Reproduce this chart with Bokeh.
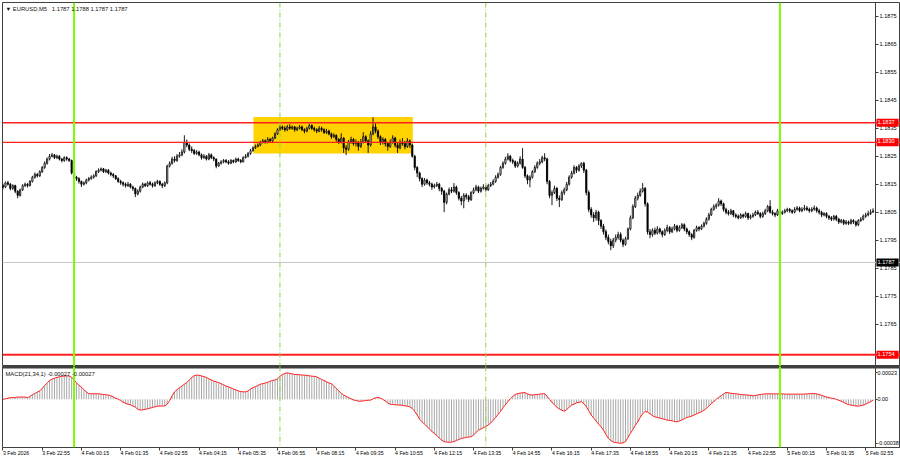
import numpy as np
from bokeh.plotting import figure
from bokeh.models import (Range1d, FixedTicker, Span, Label, ColumnDataSource,
                          NumeralTickFormatter, CustomJSTickFormatter)
from bokeh.layouts import column
from bokeh.embed import file_html
from bokeh.resources import INLINE

# ---------------- data (prices in points: price = BASE + pts * 1e-5) ----------------
BASE = 1.18
first_open = 145
closes = [
    140, 155, 150, 135, 145, 125, 110, 130, 145, 150,
    145, 160, 175, 185, 180, 195, 210, 225, 240, 250,
    255, 245, 250, 240, 235, 245, 240, 235, 190, 175,
    170, 160, 150, 155, 165, 170, 175, 180, 195, 200,
    205, 195, 200, 190, 185, 180, 170, 160, 155, 150,
    145, 150, 140, 135, 115, 125, 140, 150, 145, 155,
    150, 145, 155, 160, 150, 145, 155, 215, 225, 240,
    235, 250, 255, 265, 300, 290, 275, 270, 260, 265,
    255, 245, 250, 240, 255, 245, 240, 215, 225, 230,
    235, 230, 225, 235, 230, 240, 235, 230, 245, 250,
    260, 270, 280, 285, 290, 300, 305, 300, 310, 305,
    315, 330, 345, 355, 350, 345, 355, 350, 355, 345,
    350, 355, 345, 340, 350, 360, 350, 345, 340, 350,
    345, 335, 340, 330, 320, 325, 310, 300, 315, 280,
    275, 300, 310, 295, 300, 285, 300, 320, 305, 290,
    330, 355, 340, 320, 300, 310, 295, 285, 300, 315,
    290, 280, 300, 295, 285, 305, 290, 250, 210, 190,
    170, 150, 165, 155, 150, 140, 145, 150, 135, 125,
    85, 115, 130, 125, 140, 120, 100, 90, 110, 105,
    95, 120, 130, 140, 125, 135, 140, 130, 145, 150,
    160, 175, 185, 210, 225, 240, 250, 235, 230, 215,
    225, 240, 210, 180, 165, 175, 195, 210, 225, 230,
    245, 240, 160, 110, 120, 135, 100, 95, 120, 130,
    150, 175, 190, 210, 200, 215, 225, 200, 120, 60,
    40, 30, 50, 20, 0, -20, -40, -55, -70, -50,
    -40, -30, -50, -65, -45, -10, 30, 70, 100, 110,
    125, 135, 80, -20, -30, -15, -25, -10, -20, -30,
    -15, -5, -20, -10, 0, -15, -5, 5, -10, -20,
    -30, -40, -15, -5, -10, 0, 10, 25, 40, 60,
    70, 75, 90, 80, 60, 50, 45, 55, 40, 35,
    30, 40, 35, 45, 30, 35, 40, 50, 45, 35,
    45, 55, 70, 50, 45, 40, 55, 45, 50, 55,
    60, 55, 50, 60, 65, 55, 60, 65, 60, 55,
    60, 65, 55, 50, 40, 45, 35, 30, 25, 35,
    25, 15, 20, 10, 15, 10, 20, 15, 5, 20,
    25, 35, 40, 45, 50, 55]
highs = [
    152, 160, 162, 154, 150, 148, 128, 134, 150, 156,
    154, 165, 180, 192, 190, 200, 215, 232, 246, 258,
    262, 258, 256, 254, 244, 250, 250, 244, 238, 195,
    180, 175, 163, 160, 170, 176, 182, 186, 200, 207,
    210, 208, 205, 204, 195, 190, 183, 175, 166, 160,
    156, 158, 154, 145, 138, 132, 145, 156, 155, 160,
    162, 156, 160, 166, 164, 155, 160, 220, 232, 248,
    250, 258, 265, 275, 325, 310, 296, 285, 276, 272,
    270, 260, 258, 254, 262, 260, 250, 242, 230, 236,
    240, 240, 236, 240, 238, 245, 245, 240, 250, 258,
    265, 276, 285, 292, 296, 305, 312, 310, 318, 316,
    320, 336, 350, 362, 360, 358, 362, 365, 360, 358,
    356, 362, 360, 350, 356, 366, 364, 356, 350, 358,
    356, 350, 348, 345, 335, 332, 328, 315, 332, 318,
    290, 308, 320, 315, 310, 305, 312, 336, 325, 310,
    340, 389, 368, 346, 325, 318, 315, 300, 310, 325,
    320, 298, 310, 315, 305, 315, 310, 295, 255, 215,
    195, 175, 172, 170, 162, 156, 152, 158, 155, 140,
    130, 120, 138, 140, 154, 145, 125, 108, 118, 118,
    112, 125, 138, 148, 145, 142, 150, 146, 152, 158,
    168, 182, 192, 216, 232, 248, 261, 255, 242, 235,
    232, 250, 279, 215, 185, 182, 200, 218, 232, 240,
    252, 261, 245, 165, 128, 145, 140, 110, 128, 138,
    158, 182, 198, 218, 215, 222, 228, 230, 205, 128,
    68, 50, 58, 55, 25, 8, -12, -30, -45, -42,
    -30, -20, -22, -44, -38, -5, 38, 78, 108, 120,
    135, 154, 140, 85, -10, -8, -5, 0, -5, -15,
    -8, 5, 0, -2, 8, 5, 3, 11, 10, -5,
    -15, -25, -10, 2, 0, 6, 16, 32, 48, 66,
    78, 82, 100, 95, 84, 66, 58, 62, 58, 46,
    42, 46, 45, 52, 48, 42, 48, 56, 58, 50,
    52, 62, 76, 93, 58, 50, 62, 60, 56, 62,
    66, 65, 60, 68, 72, 70, 68, 76, 72, 66,
    68, 74, 70, 62, 55, 50, 50, 40, 36, 40,
    40, 30, 26, 25, 22, 20, 26, 25, 20, 25,
    32, 42, 48, 55, 60, 64]
lows = [
    132, 136, 145, 128, 130, 118, 100, 106, 126, 140,
    138, 142, 156, 170, 174, 176, 190, 205, 220, 235,
    246, 240, 240, 235, 228, 230, 234, 230, 185, 168,
    162, 152, 140, 145, 150, 160, 166, 170, 176, 190,
    196, 190, 190, 185, 178, 172, 165, 155, 148, 142,
    138, 140, 135, 126, 104, 110, 120, 136, 140, 140,
    145, 138, 140, 150, 144, 136, 140, 150, 210, 220,
    228, 230, 245, 250, 260, 282, 268, 262, 255, 255,
    250, 238, 240, 235, 236, 240, 232, 207, 212, 220,
    225, 225, 220, 222, 225, 226, 230, 225, 228, 242,
    246, 255, 266, 276, 282, 286, 296, 295, 296, 300,
    300, 312, 326, 340, 344, 338, 340, 345, 344, 338,
    340, 346, 340, 332, 336, 346, 344, 338, 333, 336,
    338, 330, 330, 325, 312, 315, 302, 294, 296, 262,
    254, 270, 295, 288, 285, 270, 280, 296, 298, 262,
    285, 325, 332, 312, 290, 292, 285, 270, 280, 295,
    282, 262, 275, 288, 275, 280, 280, 245, 200, 175,
    160, 140, 145, 148, 142, 130, 135, 140, 125, 112,
    50, 78, 110, 118, 120, 112, 92, 75, 64, 95,
    86, 90, 115, 125, 118, 120, 130, 124, 126, 140,
    146, 155, 170, 180, 205, 220, 235, 228, 222, 208,
    210, 220, 205, 172, 150, 139, 170, 190, 205, 218,
    225, 232, 150, 100, 75, 115, 90, 68, 90, 112,
    125, 145, 170, 185, 190, 195, 208, 190, 110, 50,
    30, 15, 20, 4, -10, -30, -50, -65, -86, -78,
    -58, -48, -58, -75, -70, -50, -15, 25, 65, 92,
    105, 120, 70, -30, -43, -38, -32, -30, -28, -40,
    -35, -22, -28, -25, -15, -22, -20, -10, -18, -28,
    -38, -50, -45, -20, -18, -14, -5, 5, 20, 36,
    55, 62, 70, 72, 52, 42, 38, 40, 32, 28,
    24, 26, 28, 30, 22, 24, 30, 36, 40, 28,
    30, 40, 50, 45, 38, 32, 36, 38, 40, 45,
    50, 48, 44, 46, 55, 50, 50, 55, 54, 48,
    50, 55, 48, 42, 32, 35, 28, 22, 18, 20,
    18, 8, 10, 4, 5, 4, 6, 8, -2, 0,
    15, 20, 30, 35, 40, 48]
# MACD(21,34,1) main value per bar, in 1e-5
macd = [
    0, 0.5, 1, 1.5, 1.5, 1.5, 2, 2, 2, 2,
    1.5, 2.5, 4, 5, 6.3, 7.3, 9.5, 12, 14, 16.3,
    17.5, 18.3, 19, 19.5, 20, 20.2, 20.3, 20.3, 19, 17,
    14.2, 12.3, 10.5, 8.5, 6.3, 5, 4.8, 4.8, 4.8, 4.8,
    4.5, 4.2, 3.9, 3.7, 3.1, 2.1, 1, 0.2, -1, -2.6,
    -3.5, -4.2, -4.7, -5.8, -6.8, -8.4, -9.3, -9.1, -8.6, -8.2,
    -7.6, -7.1, -6.5, -5.9, -5.8, -5.8, -5.7, -4.2, -1, 3.1,
    6.5, 8.4, 10, 11.5, 13.1, 14.7, 16.8, 18.9, 20.5, 21,
    20.8, 20.3, 19.7, 18.9, 17.8, 16.8, 15.7, 15.2, 14.5, 13.6,
    12.6, 11.5, 10.8, 10, 8.9, 8.2, 7.3, 6.8, 6.5, 6.5,
    7.3, 8.9, 10, 11, 12, 13.1, 13.6, 14.2, 14.7, 15.7,
    16.3, 16.8, 17.8, 19.9, 21.5, 22.5, 23, 22.5, 22, 21.6,
    21.4, 21.4, 21, 21, 20.7, 20.4, 20.1, 19.9, 19.5, 18.3,
    17.3, 16.3, 15.2, 14.2, 13.6, 11.5, 9.4, 7.3, 5.2, 3.7,
    2.6, 1.6, 0.5, -0.5, -1, -1.6, -1.6, -1.4, -1, -0.8,
    -0.7, 0.5, 1.3, 1.6, 1, 0, -1.6, -3.1, -4.2, -4.5,
    -4.7, -4.9, -5, -5.2, -5.6, -6, -6.5, -7.9, -10.5, -13.6,
    -17.3, -19.5, -21.5, -23.6, -25.7, -27.8, -29.6, -31.4, -33.5, -35.4,
    -36.6, -37, -37.2, -37.1, -36.6, -35.6, -34.8, -33.9, -33.5, -33,
    -32.7, -32.4, -30.9, -28.8, -26.7, -25.7, -24.6, -23.6, -22.3, -20.4,
    -18.3, -15.7, -13.1, -10.5, -7.3, -4.7, -2.1, 0.5, 2.6, 4.2,
    5, 5.4, 5.7, 5.8, 4.7, 4, 3.7, 4, 4.2, 4.5,
    4.8, 5, 2.6, 0, -2.7, -4.7, -6.8, -8.4, -9.4, -10.3,
    -8.9, -6.8, -5, -4.2, -3.1, -2.6, -2.1, -3.7, -6.3, -9.9,
    -13.6, -16.2, -18.8, -21.5, -23.8, -26.7, -30.4, -33.9, -35.6, -37,
    -37.5, -37.8, -38, -37.8, -36.6, -33, -29.5, -26.2, -22.5, -19.5,
    -15.7, -12.6, -10.5, -11, -12.6, -14.1, -15.2, -15.7, -16.2, -16.8,
    -17.4, -18, -18.3, -18.6, -19.2, -19.5, -18.8, -17.8, -16.8, -15.7,
    -15.2, -14.5, -13.6, -12.6, -11.5, -10.8, -9.4, -7.9, -5.8, -3.7,
    -2.1, 0, 1.6, 3.1, 4.7, 5.9, 5.8, 5.2, 5, 4.8,
    4.5, 4.2, 4, 3.8, 3.7, 3.5, 3.1, 3.4, 3.8, 4.2,
    4.5, 4.7, 4.8, 4.8, 4.7, 4.7, 4.8, 4.8, 4.7, 4.6,
    4.5, 4.5, 4.5, 4.5, 4.5, 4.5, 4.5, 4.6, 4.7, 4.9,
    5, 5, 4.7, 4.2, 3.5, 2.7, 2.1, 1.6, 1, 0.7,
    0, -0.8, -1.7, -2.6, -3.7, -4.5, -5, -5.4, -5.8, -5.9,
    -5.5, -5, -4.2, -3.1, -2.1, -0.7]

price_ticks = [1.1765, 1.1775, 1.1785, 1.1795, 1.1805, 1.1815, 1.1825,
               1.1835, 1.1845, 1.1855, 1.1865, 1.1875]
macd_ticks = [0.00023, 0.0, -0.00038]
time_labels = {0: "3 Feb 2026", 16: "3 Feb 22:55", 32: "4 Feb 00:15", 48: "4 Feb 01:35",
               64: "4 Feb 02:55", 80: "4 Feb 04:15", 96: "4 Feb 05:35", 112: "4 Feb 06:55",
               128: "4 Feb 08:15", 144: "4 Feb 09:35", 160: "4 Feb 10:55", 176: "4 Feb 12:15",
               192: "4 Feb 13:35", 208: "4 Feb 14:55", 224: "4 Feb 16:15", 240: "4 Feb 17:35",
               256: "4 Feb 18:55", 272: "4 Feb 20:15", 288: "4 Feb 21:35", 304: "4 Feb 22:55",
               320: "5 Feb 00:15", 336: "5 Feb 01:35", 352: "5 Feb 02:55"}
day_lines = [29, 317]            # bars at 00:00
session_lines = [113, 197]       # bars at 07:00 and 14:00
red_levels = [1.1837, 1.1830, 1.1754]
red_widths = [1.5, 1.2, 2]
bid_level = 1.1787
zone_start, zone_end = 102.2, 167.2
zone_low, zone_high = 1.1826, 1.1839
title_text = "\u25BC EURUSD,M5\u00a0\u00a0\u00a01.1787 1.1788 1.1787 1.1787"
macd_title = "MACD(21,34,1) -0.00027 -0.00027"

# ---------------- build ----------------
FONT = "Liberation Sans"
FS_TXT = "5.8px"
FS_Y = "5.6px"
FS_X = "5.2px"
AXIS_X = 356.0          # bar position of the price scale (right edge of the chart area)
n = len(closes)
xs = np.arange(n)
c = BASE + np.array(closes) * 1e-5
o = BASE + np.array([first_open] + closes[:-1]) * 1e-5
h = BASE + np.array(highs) * 1e-5
l = BASE + np.array(lows) * 1e-5
src = ColumnDataSource(dict(x=xs, h=h, l=l, top=np.maximum(o, c), bot=np.minimum(o, c),
                            fill=["white" if cc >= oo else "black" for oo, cc in zip(o, c)]))
m = np.array(macd) * 1e-5
msrc = ColumnDataSource(dict(x=xs, m=m, z=np.zeros(n)))

xr = Range1d(-0.2, 366.2)
FW = 898
M_TOP, M_BOT = 0.0002846, -0.0004173

p1 = figure(frame_width=FW, frame_height=364, x_range=xr, y_range=Range1d(1.17498, 1.18800),
            x_axis_location=None, y_axis_location="right", output_backend="svg",
            toolbar_location=None, min_border_left=2, min_border_right=0,
            min_border_top=2, min_border_bottom=0)
p2 = figure(frame_width=FW, frame_height=81, x_range=xr, y_range=Range1d(M_BOT, M_TOP),
            y_axis_location="right", output_backend="svg", toolbar_location=None,
            min_border_left=2, min_border_right=0, min_border_top=0, min_border_bottom=13)

for p in (p1, p2):
    p.grid.visible = False
    p.outline_line_color = "#404040"
    p.outline_line_width = 1
    p.background_fill_color = "white"
    p.border_fill_color = "white"
    for ax in p.yaxis:
        ax.fixed_location = AXIS_X
        ax.major_tick_out = 3
        ax.major_tick_in = 0
        ax.minor_tick_line_color = None
        ax.major_label_standoff = 1
        ax.major_label_text_font = FONT
        ax.major_label_text_font_size = FS_Y
        ax.major_label_text_color = "black"
        ax.axis_line_color = "#404040"
        ax.major_tick_line_color = "#404040"

p1.yaxis.ticker = FixedTicker(ticks=price_ticks)
p1.yaxis.formatter = NumeralTickFormatter(format="0.0000")
p2.yaxis.ticker = FixedTicker(ticks=macd_ticks)
p2.yaxis.formatter = CustomJSTickFormatter(
    code="return Math.abs(tick) < 1e-9 ? '0.00' : tick.toFixed(5);")
p2.yaxis.major_tick_out = 2
p2.yaxis.major_label_standoff = 0
p2.yaxis.major_label_text_font_size = "5.4px"

xa = p2.xaxis[0]
xa.ticker = FixedTicker(ticks=list(time_labels.keys()))
xa.major_label_overrides = time_labels
xa.major_label_orientation = -0.0001
xa.major_tick_out = 3
xa.major_tick_in = 0
xa.minor_tick_line_color = None
xa.major_label_standoff = 2
xa.major_label_text_font = FONT
xa.major_label_text_font_size = FS_X
xa.major_label_text_color = "black"
xa.axis_line_color = "#404040"
xa.major_tick_line_color = "#404040"

# zone rectangle
p1.quad(left=[zone_start], right=[zone_end], bottom=[zone_low], top=[zone_high],
        fill_color="#FFD200", line_color=None)

# candles
p1.segment(x0="x", y0="l", x1="x", y1="h", source=src, line_color="black", line_width=0.9)
p1.vbar(x="x", width=0.5, top="top", bottom="bot", fill_color="fill", line_color="black",
        line_width=0.8, source=src)

# MACD
p2.segment(x0="x", y0="z", x1="x", y1="m", source=msrc, line_color="#a8a8a8", line_width=1)
p2.line(x="x", y="m", source=msrc, line_color="#ff2020", line_width=1)

# horizontal levels
for lv, w in zip(red_levels, red_widths):
    p1.add_layout(Span(location=lv, dimension="width", line_color="#ff2020", line_width=w))
p1.add_layout(Span(location=bid_level, dimension="width", line_color="#c8c8c8", line_width=1))
p1.add_layout(Span(location=1.17498, dimension="width", line_color="#404040", line_width=3))
p2.add_layout(Span(location=M_TOP, dimension="width", line_color="#404040", line_width=4))

# vertical lines
for p in (p1, p2):
    for b in day_lines:
        p.add_layout(Span(location=b, dimension="height", line_color="#7CFC00", line_width=2))
    for b in session_lines:
        p.add_layout(Span(location=b, dimension="height", line_color="#8CD048", line_width=1,
                          line_dash="5 2 1 2"))

# price tags over the price scale
for lv in red_levels:
    p1.add_layout(Label(x=AXIS_X, y=lv, text=f"{lv:.4f}", x_offset=1, text_color="white",
                        text_font=FONT, text_font_size=FS_Y, text_baseline="middle",
                        background_fill_color="#ff0000", padding=(1, 4, 1, 3)))
p1.add_layout(Label(x=AXIS_X, y=bid_level, text=f"{bid_level:.4f}", x_offset=1, text_color="white",
                    text_font=FONT, text_font_size=FS_Y, text_baseline="middle",
                    background_fill_color="black", padding=(1, 4, 1, 3)))

# titles
p1.add_layout(Label(x=-0.2, y=1.18800, x_offset=3, y_offset=-6, text=title_text,
                    text_font=FONT, text_font_size=FS_TXT, text_baseline="middle", text_color="#111"))
p2.add_layout(Label(x=-0.2, y=M_TOP, x_offset=3, y_offset=-7, text=macd_title,
                    text_font=FONT, text_font_size=FS_TXT, text_baseline="middle", text_color="#111"))

layout = column(p1, p2, spacing=0)
open("out.html", "w").write(file_html(layout, INLINE))
